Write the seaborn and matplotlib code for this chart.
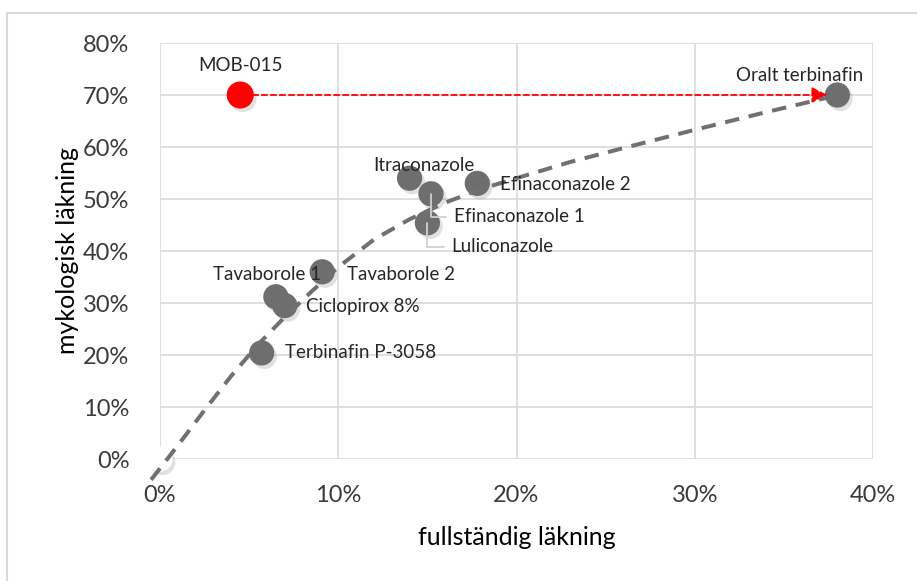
import matplotlib
matplotlib.use("Agg")
import matplotlib.pyplot as plt
import matplotlib.patheffects as pe
from matplotlib.ticker import PercentFormatter, MultipleLocator
import seaborn as sns
import pandas as pd

# data (percent)
names = ["Oralt terbinafin", "Itraconazole", "Efinaconazole 1", "Efinaconazole 2",
         "Luliconazole", "Tavaborole 1", "Tavaborole 2", "Ciclopirox 8%",
         "Terbinafin P-3058"]
complete_cure = [38.0, 14.0, 15.2, 17.8, 15.0, 6.5, 9.1, 7.0, 5.7]
mycological_cure = [70.0, 54.0, 51.0, 53.0, 45.4, 31.2, 36.0, 29.5, 20.4]

mob_name = "MOB-015"
mob_complete = [4.5]
mob_mycological = [70.0]

origin_x = [0.0]
origin_y = [0.0]

# trend curve as drawn in the reference
trend_x = [-0.5, 1, 2.5, 4, 5.5, 7, 8.5, 10, 12, 14, 16, 18, 20, 23, 26, 30, 34, 37.7]
trend_y = [-4.0, 2.6, 9.4, 16.0, 22.0, 27.3, 32.2, 36.9, 42.2, 46.1, 49.3, 51.9,
           54.0, 57.1, 59.8, 63.3, 66.7, 69.7]

# label offsets in points (dx, dy, ha)
label_pos = {
    "Oralt terbinafin": (19, 14, "right"),
    "Itraconazole": (-26, 9, "left"),
    "Efinaconazole 1": (16.5, -16.5, "left"),
    "Efinaconazole 2": (16, -1, "left"),
    "Luliconazole": (17, -17, "left"),
    "Tavaborole 1": (-45, 16, "left"),
    "Tavaborole 2": (18, -2, "left"),
    "Ciclopirox 8%": (15, -1, "left"),
    "Terbinafin P-3058": (16.5, 0.5, "left"),
}
leader = ["Efinaconazole 1", "Luliconazole"]

df = pd.DataFrame({"name": names, "complete": complete_cure, "myco": mycological_cure})
trend = pd.DataFrame({"x": trend_x, "y": trend_y})

sns.set_theme(style="whitegrid")
plt.rcParams["font.family"] = ["Lato", "DejaVu Sans"]

fig = plt.figure(figsize=(9.17, 5.81), dpi=100)
ax = fig.add_axes([160 / 917, 1 - 459 / 581, (873 - 160) / 917, (459 - 43) / 581])

grey = "#6e6e6e"
shadow = [pe.SimplePatchShadow(offset=(2, -2.5), shadow_rgbFace="#777777", alpha=0.22), pe.Normal()]

sns.scatterplot(data=df, x="complete", y="myco", s=330, color=grey, edgecolor="none",
                ax=ax, zorder=3, legend=False)
ax.collections[-1].set_path_effects(shadow)

sns.scatterplot(x=origin_x, y=origin_y, s=330, color="white", edgecolor="none", ax=ax,
                zorder=3, legend=False, clip_on=False)
ax.collections[-1].set_path_effects(shadow)

sns.scatterplot(x=mob_complete, y=mob_mycological, s=380, color="#ff0000", edgecolor="none",
                ax=ax, zorder=4, legend=False)
ax.collections[-1].set_path_effects(shadow)

sns.lineplot(data=trend, x="x", y="y", sort=False, color="#707070", lw=2.9, ax=ax, zorder=5)
ax.lines[-1].set_dashes((3.6, 2.4))
ax.lines[-1].set_clip_on(False)

# red arrow MOB-015 -> oral terbinafin
ax.annotate("", xy=(complete_cure[0], mycological_cure[0]),
            xytext=(mob_complete[0], mob_mycological[0]),
            arrowprops=dict(arrowstyle="-|>", color="#ff0000", lw=1.3, linestyle=(0, (3, 2)),
                            mutation_scale=24, shrinkA=9, shrinkB=7), zorder=4)

for n, x, y in zip(names, complete_cure, mycological_cure):
    dx, dy, ha = label_pos[n]
    props = None
    if n in leader:
        props = dict(arrowstyle="-", color="#d0d0d0", lw=1.3,
                     connectionstyle="angle,angleA=0,angleB=90,rad=0", shrinkA=3, shrinkB=0)
    ax.annotate(n, (x, y), xytext=(dx, dy), textcoords="offset points", ha=ha, va="center",
                fontsize=13.5, color="#262626", arrowprops=props, zorder=6)

ax.annotate(mob_name, (mob_complete[0], mob_mycological[0]), xytext=(0, 21.5),
            textcoords="offset points", ha="center", va="center", fontsize=13.5, color="#262626")

ax.set_xlim(0, 40)
ax.set_ylim(0, 80)
ax.xaxis.set_major_locator(MultipleLocator(10))
ax.yaxis.set_major_locator(MultipleLocator(10))
ax.xaxis.set_major_formatter(PercentFormatter(100, decimals=0))
ax.yaxis.set_major_formatter(PercentFormatter(100, decimals=0))
ax.tick_params(axis="both", labelsize=17, labelcolor="#3a3a3a", length=0)
ax.tick_params(axis="x", pad=19)
ax.tick_params(axis="y", pad=22)
ax.grid(True, color="#dcdcdc", lw=1.3)
for sp in ax.spines.values():
    sp.set_visible(False)
ax.set_axisbelow(True)

ax.set_xlabel("fullständig läkning", fontsize=18, color="black", labelpad=14)
ax.set_ylabel("mykologisk läkning", fontsize=18, color="black", labelpad=3)

fig.patches.append(plt.Rectangle((7 / 917, -0.1), 2, 1 - 13 / 581 + 0.1, transform=fig.transFigure,
                                 fill=False, edgecolor="#d9d9d9", lw=1.5))

fig.savefig("out.png", dpi=100)
